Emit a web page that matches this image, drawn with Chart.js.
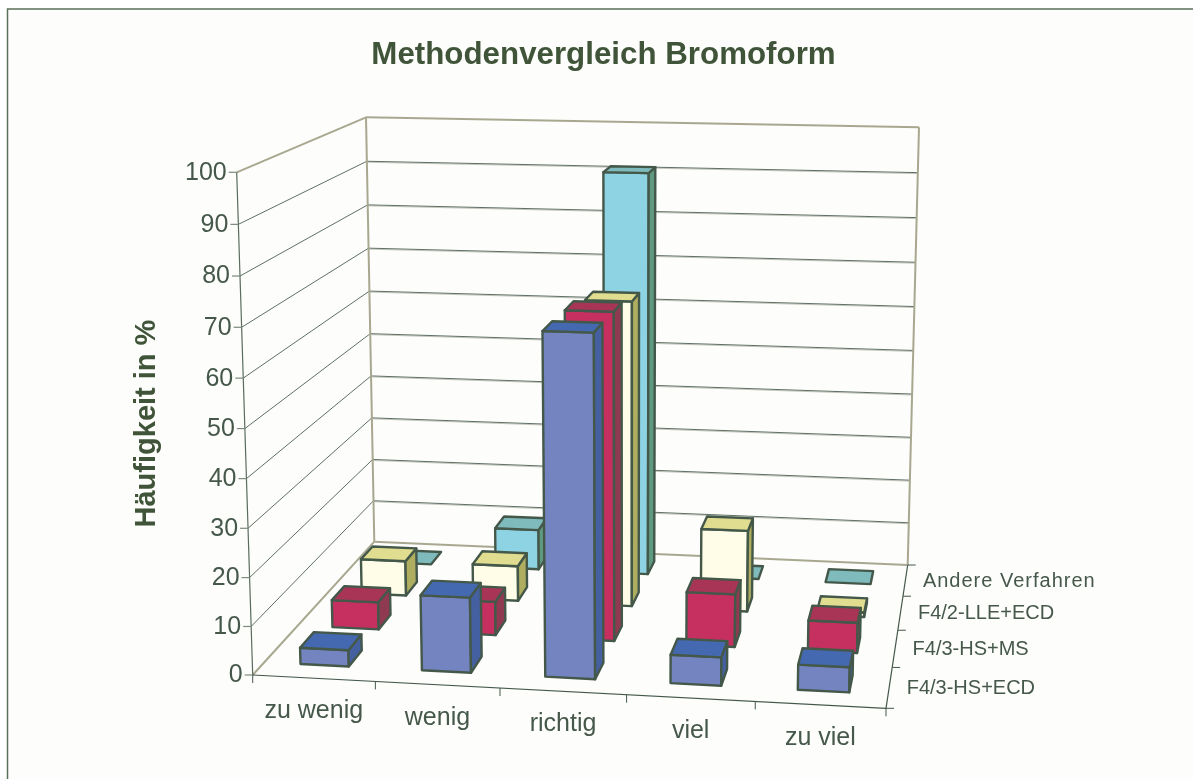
<!DOCTYPE html>
<html>
<head>
<meta charset="utf-8">
<title>Methodenvergleich Bromoform</title>
<script src="https://cdn.jsdelivr.net/npm/chart.js@4"></script>
<style>
  html, body { margin: 0; padding: 0; background: #fff; }
  canvas { display: block; }
</style>
</head>
<body>
<canvas id="chart" width="1193" height="779"></canvas>
<script>
const categories = ['zu wenig', 'wenig', 'richtig', 'viel', 'zu viel'];
const seriesNames = ['F4/3-HS+ECD', 'F4/3-HS+MS', 'F4/2-LLE+ECD', 'Andere Verfahren'];

const hsEcd = [3.4, 15.5, 69.5, 5.8, 5.1];
const hsMs = [5.9, 7.2, 69.1, 11.2, 6.4];
const lleEcd = [7.8, 7.8, 66.8, 17.9, 1];
const andere = [0, 9.2, 90.8, 0, 0];

const tickValues = [0, 10, 20, 30, 40, 50, 60, 70, 80, 90, 100];

// front, top, side colour for every series
const faceColors = [
    ['#7484c0', '#4469b0', '#4560a0'],
    ['#c63060', '#a83555', '#8f3a50'],
    ['#fffde8', '#e0dc90', '#aead60'],
    ['#8ed3e4', '#7fbabc', '#5f9a80']
];

const textColor = '#45584a';
const edgeColor = '#44584a';
const wallColor = '#a8a890';
const barHalfWidth = 0.2;
const barHalfDepth = 0.21;
const rowShift = 0.04;
const heightPerspective = 1.04;

// corners of the floor and of the ceiling of the 3D box on the page
const floorCorners = [[252.7, 675], [886, 708.3], [907.7, 565], [374.3, 541.7]];
const ceilingCorners = [[236.7, 172.3], [898, 187], [919, 127.3], [366, 117.3]];

function quadMap(q) {
    const dx1 = q[1][0] - q[2][0], dx2 = q[3][0] - q[2][0], sx = q[0][0] - q[1][0] + q[2][0] - q[3][0];
    const dy1 = q[1][1] - q[2][1], dy2 = q[3][1] - q[2][1], sy = q[0][1] - q[1][1] + q[2][1] - q[3][1];
    const den = dx1 * dy2 - dx2 * dy1;
    const g = (sx * dy2 - dx2 * sy) / den;
    const h = (dx1 * sy - sx * dy1) / den;
    const a = q[1][0] - q[0][0] + g * q[1][0], b = q[3][0] - q[0][0] + h * q[3][0];
    const d = q[1][1] - q[0][1] + g * q[1][1], e = q[3][1] - q[0][1] + h * q[3][1];
    return function (u, w) {
        const t = g * u + h * w + 1;
        return [(a * u + b * w + q[0][0]) / t, (d * u + e * w + q[0][1]) / t];
    };
}

const floorMap = quadMap(floorCorners);
const ceilingMap = quadMap(ceilingCorners);

function project(u, w, v) {
    const p0 = floorMap(u, w);
    const p1 = ceilingMap(u, w);
    return [p0[0] + (p1[0] - p0[0]) * v, p0[1] + (p1[1] - p0[1]) * v];
}

function scaleFraction(scale, value) {
    return (scale.getPixelForValue(value) - scale.left) / scale.width;
}

// the picture's value axis gets slightly wider towards the top
function heightFraction(chart, value) {
    const y = chart.scales.y;
    const v = (y.bottom - y.getPixelForValue(value)) / y.height;
    return v / (heightPerspective - (heightPerspective - 1) * v);
}

function line(ctx, a, b, color, width) {
    ctx.strokeStyle = color;
    ctx.lineWidth = width;
    ctx.beginPath();
    ctx.moveTo(a[0], a[1]);
    ctx.lineTo(b[0], b[1]);
    ctx.stroke();
}

function face(ctx, points, color) {
    ctx.fillStyle = color;
    ctx.strokeStyle = edgeColor;
    ctx.lineWidth = 2.4;
    ctx.lineJoin = 'round';
    ctx.beginPath();
    points.forEach((p, i) => i ? ctx.lineTo(p[0], p[1]) : ctx.moveTo(p[0], p[1]));
    ctx.closePath();
    ctx.fill();
    ctx.stroke();
}

function drawWalls(chart, ctx) {
    const stepX = 1 / categories.length;
    const stepZ = 1 / seriesNames.length;

    tickValues.forEach(value => {
        if (value === 0 || value === 100) return;
        const v = heightFraction(chart, value);
        const a = project(0, 1, v), b = project(1, 1, v), c = project(0, 0, v);
        line(ctx, [a[0], a[1] + 1], [b[0], b[1] + 1], '#c4c6bc', 1);
        line(ctx, a, b, '#5f7064', 1);
        line(ctx, c, a, '#5f7064', 1);
    });

    // wall outlines
    line(ctx, project(0, 0, 1), project(0, 1, 1), wallColor, 2);
    line(ctx, project(0, 1, 1), project(1, 1, 1), wallColor, 2);
    line(ctx, project(0, 1, 0), project(0, 1, 1), wallColor, 2);
    line(ctx, project(1, 1, 0), project(1, 1, 1), wallColor, 2);
    line(ctx, project(0, 1, 0), project(1, 1, 0), wallColor, 2);
    line(ctx, project(0, 0, 0), project(0, 1, 0), wallColor, 2);

    // axis lines and tick marks
    line(ctx, project(0, 0, 0), project(0, 0, 1), '#5a6c5e', 1.2);
    line(ctx, project(0, 0, 0), project(1, 0, 0), edgeColor, 1.2);
    line(ctx, project(1, 0, 0), project(1, 1, 0), edgeColor, 1.2);

    tickValues.forEach(value => {
        const p = project(0, 0, heightFraction(chart, value));
        line(ctx, [p[0] - 8, p[1]], p, '#7c8a7c', 1.2);
    });
    for (let i = 0; i <= categories.length; i++) {
        const p = project(i * stepX, 0, 0);
        line(ctx, p, [p[0], p[1] + 8], edgeColor, 1);
    }
    for (let i = 0; i <= seriesNames.length; i++) {
        const p = project(1, i * stepZ, 0);
        line(ctx, p, [p[0] + 8, p[1]], edgeColor, 1);
    }
}

function drawBars(chart, ctx) {
    const x = chart.scales.x;
    const z = chart.scales.z;
    const halfU = barHalfWidth / categories.length;
    const halfW = barHalfDepth / seriesNames.length;

    // back row first so the front rows cover it
    for (let s = seriesNames.length - 1; s >= 0; s--) {
        const colors = faceColors[s];
        const w = scaleFraction(z, s) + rowShift / seriesNames.length;
        chart.data.datasets[s].data.forEach((value, i) => {
            const u = scaleFraction(x, i);
            const v = heightFraction(chart, value);
            const u0 = u - halfU, u1 = u + halfU, w0 = w - halfW, w1 = w + halfW;
            if (value > 0) {
                face(ctx, [project(u0, w0, 0), project(u1, w0, 0), project(u1, w0, v), project(u0, w0, v)], colors[0]);
                face(ctx, [project(u1, w0, 0), project(u1, w1, 0), project(u1, w1, v), project(u1, w0, v)], colors[2]);
            }
            face(ctx, [project(u0, w0, v), project(u1, w0, v), project(u1, w1, v), project(u0, w1, v)], colors[1]);
        });
    }
}

function drawLabels(chart, ctx) {
    const x = chart.scales.x;
    const z = chart.scales.z;
    ctx.fillStyle = textColor;
    ctx.textBaseline = 'middle';
    ctx.font = '25px "Liberation Sans", Arial, sans-serif';

    ctx.textAlign = 'right';
    chart.scales.y.ticks.forEach(tick => {
        const p = project(0, 0, heightFraction(chart, tick.value));
        ctx.fillText(tick.label, p[0] - 10, p[1] + 0.5);
    });

    ctx.textAlign = 'center';
    categories.forEach((name, i) => {
        const p = project(scaleFraction(x, i), 0, 0);
        ctx.fillText(name, p[0], p[1] + 33);
    });

    ctx.textAlign = 'left';
    ctx.font = '20px "Liberation Sans", Arial, sans-serif';
    seriesNames.forEach((name, s) => {
        const p = project(1, scaleFraction(z, s), 0);
        ctx.letterSpacing = name.length > 12 ? '1px' : '0px';
        ctx.fillText(name, p[0] + 17.5, p[1] + 1);
    });
    ctx.letterSpacing = '0px';
}

const box3d = {
    id: 'box3d',
    beforeDraw(chart) {
        const ctx = chart.ctx;
        ctx.save();
        ctx.fillStyle = '#fff';
        ctx.fillRect(0, 0, chart.width, chart.height);
        ctx.fillStyle = '#fdfdfb';
        ctx.strokeStyle = '#5a6f5a';
        ctx.lineWidth = 1.5;
        ctx.fillRect(7.5, 9, chart.width, chart.height);
        ctx.strokeRect(7.5, 9, chart.width, chart.height);
        ctx.restore();
    },
    beforeDatasetsDraw(chart) {
        const ctx = chart.ctx;
        ctx.save();
        drawWalls(chart, ctx);
        drawBars(chart, ctx);
        drawLabels(chart, ctx);
        ctx.restore();
        return false;
    }
};

new Chart(document.getElementById('chart'), {
    type: 'bar',
    data: {
        labels: categories,
        datasets: [
            { label: seriesNames[0], data: hsEcd, backgroundColor: faceColors[0][0] },
            { label: seriesNames[1], data: hsMs, backgroundColor: faceColors[1][0] },
            { label: seriesNames[2], data: lleEcd, backgroundColor: faceColors[2][0] },
            { label: seriesNames[3], data: andere, backgroundColor: faceColors[3][0] }
        ]
    },
    plugins: [box3d],
    options: {
        responsive: false,
        animation: false,
        layout: { padding: { left: 14, bottom: 104 } },
        plugins: {
            legend: { display: false },
            tooltip: { enabled: false },
            title: {
                display: true,
                text: 'Methodenvergleich Bromoform',
                color: '#3f5438',
                font: { family: '"Liberation Sans", Arial, sans-serif', size: 31.3, weight: 'bold', lineHeight: 1.2 },
                padding: { top: 36.5, bottom: 98 }
            }
        },
        scales: {
            x: { display: false, offset: true },
            z: { axis: 'x', type: 'category', labels: seriesNames, display: false, offset: true },
            y: {
                min: 0,
                max: 100,
                ticks: { display: false, stepSize: 10 },
                grid: { display: false },
                border: { display: false },
                title: {
                    display: true,
                    text: 'Häufigkeit in %',
                    color: '#3f5438',
                    font: { family: '"Liberation Sans", Arial, sans-serif', size: 29, weight: 'bold', lineHeight: 1.2 },
                    padding: { top: 116, bottom: 0 }
                },
                afterFit(scale) { scale.width = 222.7; }
            }
        }
    }
});
</script>
</body>
</html>
